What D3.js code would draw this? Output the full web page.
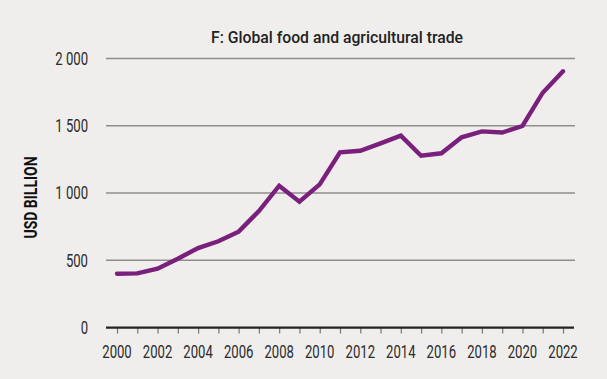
<!DOCTYPE html>
<html>
<head>
<meta charset="utf-8">
<script src="https://cdn.jsdelivr.net/npm/d3@7"></script>
<style>
  html, body { margin: 0; padding: 0; background: #efeeec; }
  svg { display: block; }
  .lbl { font-family: "Roboto", "Liberation Sans", sans-serif; }
</style>
</head>
<body>
<div id="chart"></div>
<script>
// Global food and agricultural trade, USD billion
var years = d3.range(2000, 2023);
var tradeValues = [400, 403, 438, 512, 591, 641, 713, 866, 1054, 935, 1064, 1302,
                   1314, 1369, 1426, 1277, 1295, 1414, 1458, 1449, 1498, 1745, 1904];
var yTicks = [0, 500, 1000, 1500, 2000];
var xTickLabels = d3.range(2000, 2023, 2);

var width = 607, height = 379;
var margin = {top: 58.4, right: 32, bottom: 51.4, left: 106};
var squeeze = 0.75; // condensed look

var svg = d3.select("#chart").append("svg")
  .attr("width", width)
  .attr("height", height);

svg.append("rect")
  .attr("width", width)
  .attr("height", height)
  .attr("fill", "#efeeec");

var x = d3.scaleLinear().domain([2000, 2022]).range([117, 563]);
var y = d3.scaleLinear().domain([0, 2000]).range([height - margin.bottom, margin.top]);

var fmt = function(v) { return d3.format(",")(v).replace(",", " "); };

// gridlines
svg.append("g").selectAll("line").data(yTicks.filter(d => d > 0))
  .enter().append("line")
  .attr("x1", margin.left).attr("x2", width - margin.right)
  .attr("y1", d => y(d)).attr("y2", d => y(d))
  .attr("stroke", "#8f8e8c")
  .attr("stroke-width", 1.5);

// y labels
svg.append("g").selectAll("text").data(yTicks)
  .enter().append("text")
  .attr("class", "lbl")
  .attr("transform", d => "translate(88," + y(d) + ") scale(" + squeeze + ",1)")
  .attr("dy", "0.36em")
  .attr("text-anchor", "end")
  .attr("font-size", 17.5)
  .attr("fill", "#2b2b2b")
  .text(fmt);

// x axis ticks
var xAxis = d3.axisBottom(x)
  .tickValues(years)
  .tickSize(6)
  .tickFormat("");
var gx = svg.append("g")
  .attr("transform", "translate(0," + y(0) + ")")
  .call(xAxis);
gx.select(".domain").remove();
gx.selectAll(".tick line").attr("stroke", "#777").attr("stroke-width", 1.2);
svg.append("line")
  .attr("x1", margin.left).attr("x2", width - margin.right - 1)
  .attr("y1", y(0)).attr("y2", y(0))
  .attr("stroke", "#222")
  .attr("stroke-width", 2.2);

svg.append("g").selectAll("text").data(xTickLabels)
  .enter().append("text")
  .attr("class", "lbl")
  .attr("transform", d => "translate(" + x(d) + ",358.3) scale(" + squeeze + ",1)")
  .attr("text-anchor", "middle")
  .attr("font-size", 17.5)
  .attr("fill", "#2b2b2b")
  .text(d => d);

// series line
var line = d3.line()
  .x((d, i) => x(years[i]))
  .y(d => y(d));

svg.append("path")
  .datum(tradeValues)
  .attr("d", line)
  .attr("fill", "none")
  .attr("stroke", "#7b1f7c")
  .attr("stroke-width", 4.4)
  .attr("stroke-linejoin", "miter")
  .attr("stroke-linecap", "round");

// title
svg.append("text")
  .attr("class", "lbl")
  .attr("x", 211)
  .attr("y", 42.7)
  .attr("font-size", 16.8)
  .attr("font-weight", 500)
  .attr("fill", "#222")
  .attr("textLength", 252)
  .attr("lengthAdjust", "spacingAndGlyphs")
  .text("F: Global food and agricultural trade");

// y axis title
svg.append("text")
  .attr("class", "lbl")
  .attr("transform", "translate(36.5,238.5) rotate(-90)")
  .attr("font-size", 18)
  .attr("font-weight", "bold")
  .attr("fill", "#111")
  .attr("textLength", 82)
  .attr("lengthAdjust", "spacingAndGlyphs")
  .text("USD BILLION");
</script>
</body>
</html>
